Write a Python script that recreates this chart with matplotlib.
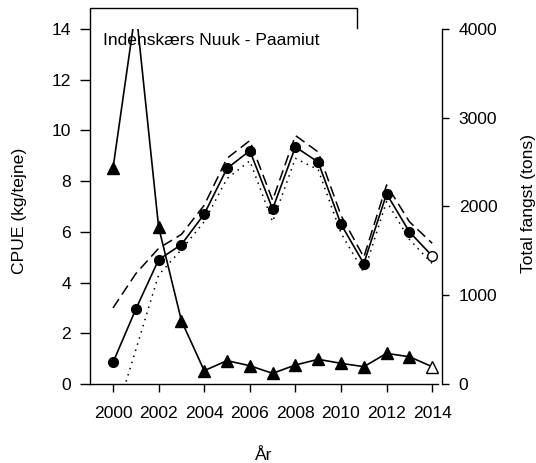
"""
CPUE and total catch, Indenskærs Nuuk - Paamiut, 2000-2014.
"""

import numpy as np
import matplotlib.pyplot as plt
from matplotlib.lines import Line2D

plt.rcParams['font.family'] = ['Liberation Sans', 'DejaVu Sans']
fs = 12.6

# Data
years = np.arange(2000, 2015)
cpue = [0.85, 2.95, 4.9, 5.5, 6.7, 8.5, 9.2, 6.9, 9.35, 8.75, 6.3, 4.75, 7.5, 6.0, 5.05]
cpue_upper = [3.0, 4.35, 5.35, 5.9, 7.05, 8.9, 9.6, 7.25, 9.8, 9.15, 6.65, 5.0, 7.85, 6.4, 5.55]
cpue_lower = [-1.6, 1.35, 4.3, 5.3, 6.4, 8.1, 8.8, 6.4, 8.9, 8.45, 5.95, 4.4, 7.2, 5.7, 4.75]
catch = [2430, 4230, 1770, 714, 150, 263, 206, 120, 214, 278, 233, 195, 345, 307, 195]

xticks = [2000, 2002, 2004, 2006, 2008, 2010, 2012, 2014]
cpue_ticks = [0, 2, 4, 6, 8, 10, 12, 14]
catch_ticks = [0, 1000, 2000, 3000, 4000]

fig = plt.figure(figsize=(5.36, 4.63), dpi=100)
ax = fig.add_axes([90/536, 1 - 384/463, 352/536, 355/463])
ax2 = ax.twinx()

# CPUE with bounds
ax.plot(years, cpue_upper, color='black', lw=1.1, dashes=(7, 3.5))
ax.plot(years, cpue_lower, color='black', lw=1.1, dashes=(1, 3.2))
ax.plot(years, cpue, color='black', lw=1.2)
ax.plot(years[:-1], cpue[:-1], 'o', color='black', ms=7)
ax.plot(years[-1:], cpue[-1:], 'o', mfc='white', mec='black', ms=7, mew=1.0)

# Total catch on the right axis
ax2.plot(years, catch, color='black', lw=1.2)
ax2.plot(years[:-1], catch[:-1], '^', color='black', ms=8)
ax2.plot(years[-1:], catch[-1:], '^', mfc='white', mec='black', ms=8, mew=1.0)

ax.set_xlim(2000 - 23/22.8, 2000 + 329/22.8)
ax.set_ylim(0, 14)
ax2.set_ylim(0, 4000)

ax.set_xticks(xticks)
ax.set_yticks(cpue_ticks)
ax2.set_yticks(catch_ticks)
ax.tick_params(axis='y', direction='out', length=7, width=1, pad=6.5, labelsize=fs)
ax.tick_params(axis='x', direction='out', length=6, width=1, pad=10, labelsize=fs)
ax2.tick_params(axis='y', direction='out', length=5, width=1, pad=7, labelsize=fs)

# Spines: odd R-style frame
for s in ['top', 'right', 'left']:
    ax.spines[s].set_visible(False)
for s in ['top', 'left', 'bottom']:
    ax2.spines[s].set_visible(False)
ax.spines['bottom'].set_bounds(ax.get_xlim()[0], 2014.25)
ax.spines['bottom'].set_linewidth(1)
ax2.spines['right'].set_bounds(0, 4000)
ax2.spines['right'].set_linewidth(1)
frame = Line2D([0, 0, 0.759, 0.759], [0, 1.059, 1.059, 1.0025],
               transform=ax.transAxes, color='black', lw=1, clip_on=False)
ax.add_line(frame)

ax.text(0.037, 0.969, 'Indenskærs Nuuk - Paamiut', transform=ax.transAxes,
        ha='left', va='center', fontsize=fs)

fig.text(20/536, 1 - 211/463, 'CPUE (kg/tejne)', rotation=90,
         ha='center', va='center', fontsize=fs)
fig.text(528/536, 1 - 203/463, 'Total fangst (tons)', rotation=90,
         ha='center', va='center', fontsize=fs)
fig.text(263/536, 1 - 455/463, 'År', ha='center', va='center', fontsize=fs)

fig.savefig('out.png', dpi=100)
